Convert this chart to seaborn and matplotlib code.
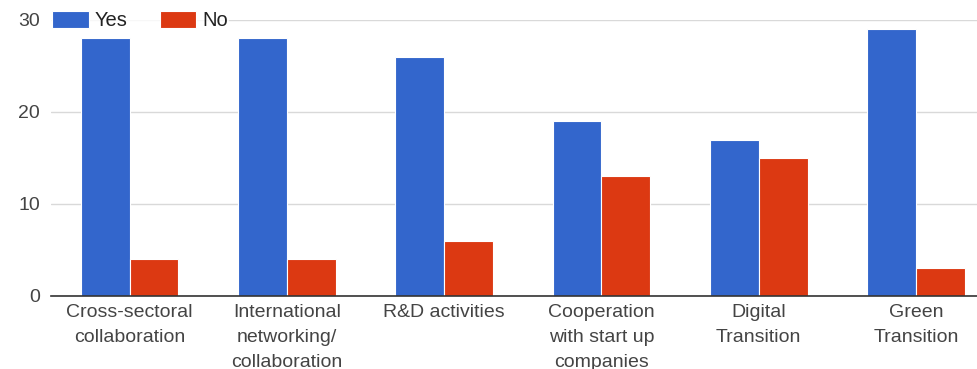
import pandas as pd
import matplotlib.pyplot as plt
import seaborn as sns

# data
categories = ['Cross-sectoral\ncollaboration', 'International\nnetworking/\ncollaboration',
              'R&D activities', 'Cooperation\nwith start up\ncompanies',
              'Digital\nTransition', 'Green\nTransition']
yes_counts = [28, 28, 26, 19, 17, 29]
no_counts = [4, 4, 6, 13, 15, 3]
series = ['Yes', 'No']
colors = ['#3366CC', '#DC3912']

df = pd.DataFrame({
    'Category': categories * 2,
    'Response': ['Yes'] * len(categories) + ['No'] * len(categories),
    'Count': yes_counts + no_counts,
})

sns.set_style('white')
plt.rcParams['font.family'] = ['Liberation Sans', 'DejaVu Sans']

fig = plt.figure(figsize=(9.78, 3.69), dpi=100)
ax = fig.add_axes([0.0521, 0.198, 0.965, 0.748])

sns.barplot(data=df, x='Category', y='Count', hue='Response', hue_order=series,
            palette=colors, width=0.62, edgecolor='white', linewidth=0.8,
            saturation=1, ax=ax)

handles, labels = ax.get_legend_handles_labels()
ax.get_legend().remove()

ax.set_xlim(-0.5, 5.5)
ax.set_ylim(0, 30)
ax.set_yticks([0, 10, 20, 30])
ax.yaxis.grid(True, color='#d9d9d9', linewidth=1)
ax.set_axisbelow(True)
for s in ['top', 'right', 'left']:
    ax.spines[s].set_visible(False)
ax.spines['bottom'].set_color('#333333')
ax.spines['bottom'].set_linewidth(1.2)
ax.spines['bottom'].set_zorder(5)
ax.tick_params(axis='both', length=0, labelsize=14, labelcolor='#444444')
ax.tick_params(axis='y', pad=8)
ax.tick_params(axis='x', pad=6)
for t in ax.get_xticklabels():
    t.set_linespacing(1.6)
ax.set_xlabel('')
ax.set_ylabel('')

fig.legend(handles, labels, loc='center left', bbox_to_anchor=(0.0525, 0.944),
           ncol=2, frameon=True, facecolor='white', edgecolor='none',
           fontsize=14.5, labelcolor='#222222', handlelength=1.8, handleheight=0.9,
           handletextpad=0.3, columnspacing=1.6, borderpad=0.05, borderaxespad=0)

plt.savefig('out.png', dpi=100)
